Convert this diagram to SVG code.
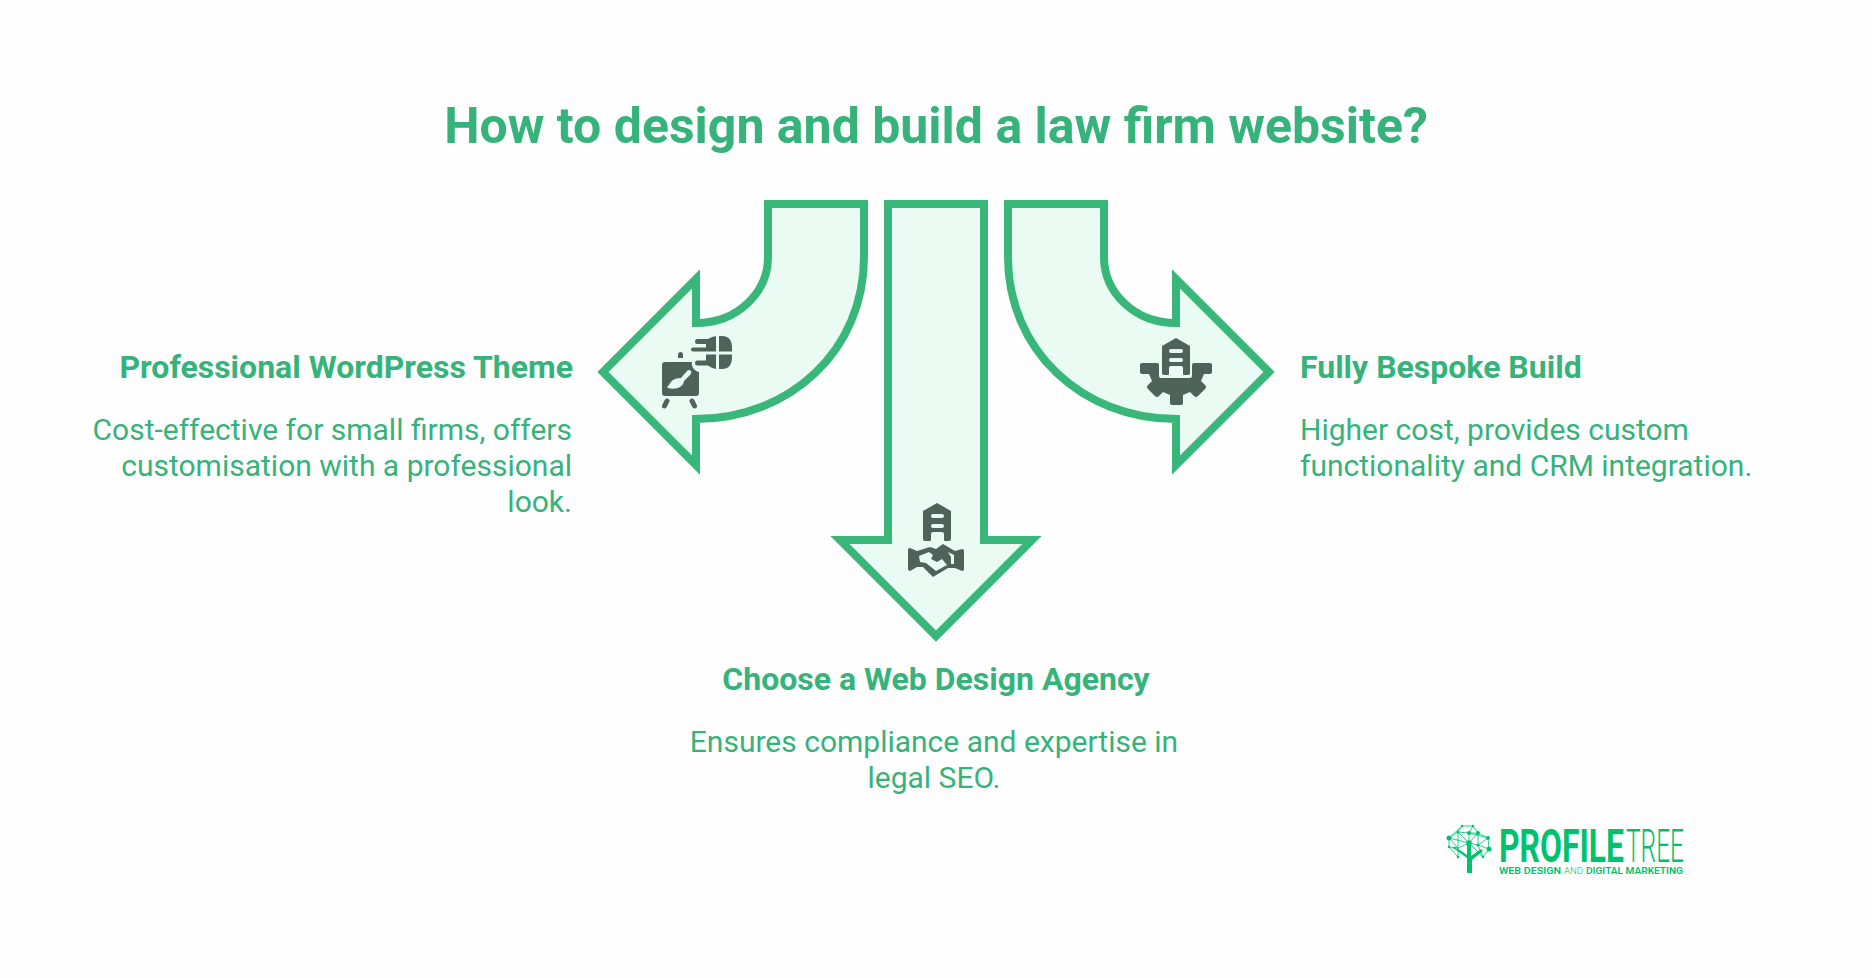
<svg xmlns="http://www.w3.org/2000/svg" width="1872" height="978" viewBox="0 0 1872 978">
<style>
text{font-family:Roboto,"Liberation Sans",sans-serif;fill:#36B37A}
.title{font-size:50px;font-weight:700}
.h{font-size:32px;font-weight:700}
.b{font-size:30px;font-weight:400}
.arrow{fill:#E9FBF3;stroke:#39B77A;stroke-width:8;stroke-miterlimit:10}
.ic{fill:#4E6459}
.icl{fill:none;stroke:#4E6459;stroke-width:5;stroke-linecap:round}
.cut{fill:#E9FBF3}
.lg{fill:#00C16E}
.lgl{fill:none;stroke:#00C16E;stroke-width:.8}
text.lt{fill:#00C16E}
</style>
<rect width="1872" height="978" fill="#FEFEFE"/>
<text class="title" x="936" y="143" text-anchor="middle">How to design and build a law firm website?</text>
<g id="connectors">
<path class="arrow" d="M768,204H864V257C864,350 790,419 696,419V465L603,372L696,279V323C738,323 768,292 768,257Z"/>
<path class="arrow" d="M888,204H984V540H1032L936,636L840,540H888Z"/>
<path class="arrow" d="M1104,204H1008V257C1008,350 1082,419 1176,419V465L1269,372L1176,279V323C1134,323 1104,292 1104,257Z"/>
</g>
<g id="node-wordpress">
<path class="ic" d="M665,362H692C691,366 694,371 699,372V393Q699,396 696,396H665Q662,396 662,393V365Q662,362 665,362Z"/>
<path class="ic" d="M678,358V355Q678,352 680.500,352Q683,352 683,355V358Z"/>
<path class="icl" d="M667,401L664.500,406M692,401L694.500,406"/>
<path class="cut" d="M687,371Q689,369 691,371Q692,373 690,375L684,381C683,388 675,390 668,388C667,388 667,386 669,385C671,381 674,378 681,378Z"/>
<path class="ic" d="M716,336V351.500H693Q691,351.500 691,349.500Q691,347.500 693,347.500H706V344H697Q695,344 695,341.500Q695,339 697,339H708Q711,337 716,336Z"/>
<path class="ic" d="M716,354.500V369Q711,368 708,365.500H697Q695,365.500 695,363Q695,360.500 697,360.500H706V354.500Z"/>
<path class="ic" d="M719,336H722Q732,336 732,348V351.500H719Z"/>
<path class="ic" d="M719,354.500H732V357Q732,369 722,369H719Z"/>
<text class="h" x="573" y="378" text-anchor="end">Professional WordPress Theme</text>
<text class="b" text-anchor="end"><tspan x="572" y="440">Cost-effective for small firms, offers</tspan><tspan x="572" y="476">customisation with a professional</tspan><tspan x="572" y="512">look.</tspan></text>
</g>
<g id="node-agency">
<path class="ic" fill-rule="evenodd" d="M937,503L951,511V539Q951,541 949,541H945Q944,541 944,540V534Q944,532 942,532H933Q931,532 931,534V540Q931,541 930,541H925Q923,541 923,539V511ZM933,514Q931,514 931,516Q931,518 933,518H942Q944,518 944,516Q944,514 942,514ZM933,524Q931,524 931,526Q931,528 933,528H942Q944,528 944,526Q944,524 942,524Z"/>
<path class="ic" d="M910,548L917,551L930,547L936,549L943,544L955,551L962,549Q964,549 964,551V569Q964,571 962,571L955,568H948L933,577L923,567H917L910,571Q908,571 908,569V550Q908,548 910,548Z"/>
<path class="cut" d="M919,556L929,552L933,555L931,559L937,562L942,559L947,565L936,571L926,563L920,562Z"/>
<path class="cut" d="M948,552L954,555V564H951L951,557Z"/>
<text class="h" x="936" y="690" text-anchor="middle">Choose a Web Design Agency</text>
<text class="b" text-anchor="middle"><tspan x="934" y="752">Ensures compliance and expertise in</tspan><tspan x="934" y="788">legal SEO.</tspan></text>
</g>
<g id="node-bespoke">
<path class="ic" fill-rule="evenodd" d="M1176,338L1190,346V373Q1190,375 1188,375H1184Q1183,375 1183,374V368Q1183,366 1181,366H1171Q1169,366 1169,368V374Q1169,375 1168,375H1164Q1162,375 1162,373V346ZM1171,349Q1169,349 1169,351Q1169,353 1171,353H1181Q1183,353 1183,351Q1183,349 1181,349ZM1171,358Q1169,358 1169,360Q1169,362 1171,362H1181Q1183,362 1183,360Q1183,358 1181,358Z"/>
<path class="ic" d="M1142,363H1157Q1159,363 1159,365V376Q1159,378 1161,378H1190Q1192,378 1192,376V365Q1192,363 1194,363H1210Q1212,363 1212,365V372Q1212,374 1210,374H1204L1201,381L1205,385Q1207,387 1205,389L1198,396Q1196,398 1194,396L1190,392L1183,395V403Q1183,405 1181,405H1172Q1170,405 1170,403V395L1163,392L1159,396Q1157,398 1155,396L1148,389Q1146,387 1148,385L1152,381L1149,374H1142Q1140,374 1140,372V365Q1140,363 1142,363Z"/>
<text class="h" x="1300" y="378">Fully Bespoke Build</text>
<text class="b"><tspan x="1300" y="440">Higher cost, provides custom</tspan><tspan x="1300" y="476">functionality and CRM integration.</tspan></text>
</g>
<g id="logo">
<path class="lgl" d="M1449,838L1458,832L1469,833L1478,833L1488,838L1489,849L1483,857L1478,845L1469,843L1458,848L1449,847L1449,838L1462,826L1473,826L1478,833L1469,843L1458,832L1462,826M1473,826L1469,833L1469,843M1488,838L1478,845L1489,849M1449,847L1458,857L1458,848L1449,838M1458,832L1458,848M1478,833L1478,845M1469,833L1488,838M1469,843L1483,857M1449,838L1469,843"/>
<path class="lg" d="M1467,873V858L1456,850L1457,848L1467,855V845H1471V856L1481,849L1483,851L1472,860V873Z"/>
<g class="lg"><circle cx="1449" cy="838" r="2.500"/><circle cx="1458" cy="832" r="1.500"/><circle cx="1469" cy="833" r="2"/><circle cx="1478" cy="833" r="2"/><circle cx="1473" cy="826" r="1.300"/><circle cx="1462" cy="826" r="1.300"/><circle cx="1488" cy="838" r="2"/><circle cx="1489" cy="849" r="2.500"/><circle cx="1469" cy="843" r="2.800"/><circle cx="1455" cy="848" r="1.500"/><circle cx="1478" cy="845" r="1.500"/><circle cx="1483" cy="857" r="1.300"/><circle cx="1458" cy="857" r="1.300"/><circle cx="1449" cy="847" r="1.300"/></g>
<text class="lt" x="1499" y="862" font-size="46" font-weight="700" textLength="125" lengthAdjust="spacingAndGlyphs">PROFILE</text>
<text class="lt" x="1626" y="862" font-size="46" font-weight="300" textLength="58" lengthAdjust="spacingAndGlyphs">TREE</text>
<text class="lt" x="1499" y="873.500" font-size="9.500" font-weight="600" textLength="62" lengthAdjust="spacingAndGlyphs">WEB DESIGN</text>
<text class="lt" x="1564" y="873.500" font-size="9.500" font-weight="300" textLength="19" lengthAdjust="spacingAndGlyphs">AND</text>
<text class="lt" x="1586" y="873.500" font-size="9.500" font-weight="600" textLength="97" lengthAdjust="spacingAndGlyphs">DIGITAL MARKETING</text>
</g>
</svg>
